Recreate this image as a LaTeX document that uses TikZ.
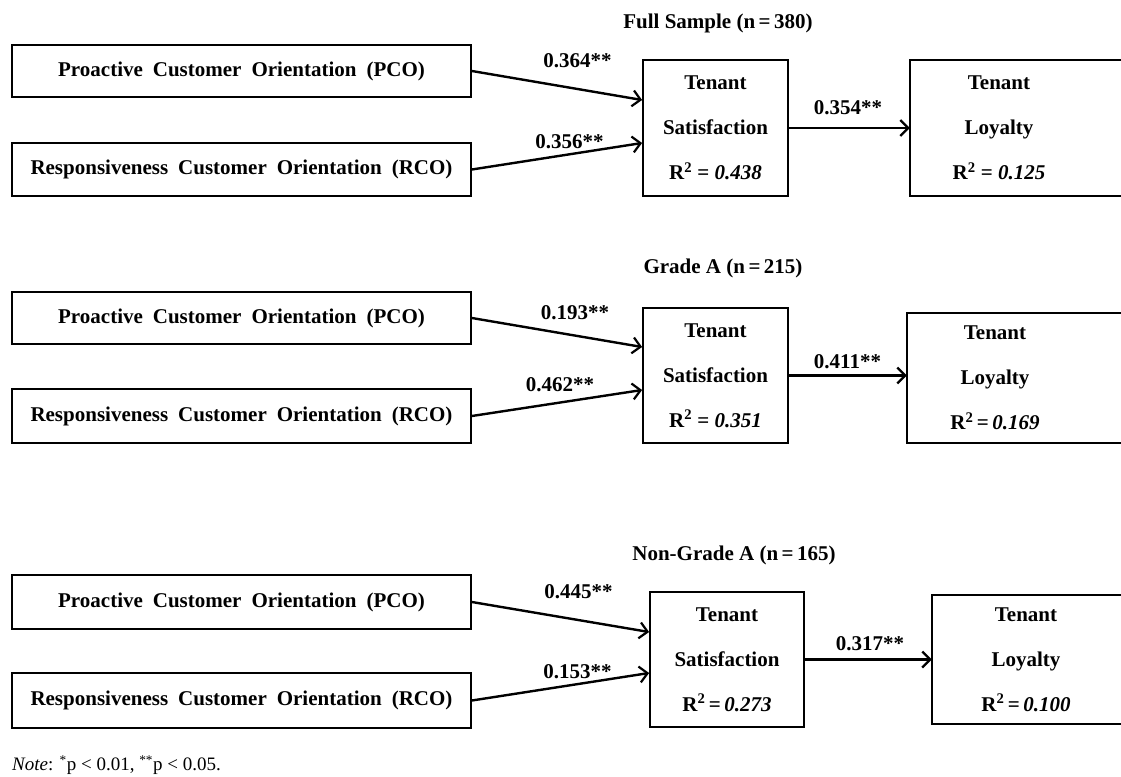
\documentclass[tikz,border=0pt]{standalone}
\usepackage{fontspec}
\setmainfont{Liberation Serif}
\usetikzlibrary{arrows.meta}
\newcommand\widewords{\spaceskip=10pt\relax}
\tikzset{
  boxline/.style={line width=1.8pt},
  inbox/.style={draw, boxline, minimum width=459pt, minimum height=52pt, inner sep=0pt,
    font=\fontsize{21}{25}\selectfont\bfseries\widewords},
  satbox/.style={draw, boxline, inner sep=0pt, align=center,
    font=\fontsize{21}{45}\selectfont\bfseries},
  loybox/.style={draw=none, inner sep=0pt, align=center,
    font=\fontsize{21}{45}\selectfont\bfseries},
  lbl/.style={inner sep=0pt, font=\fontsize{21}{25}\selectfont\bfseries},
  ttl/.style={inner sep=0pt, font=\fontsize{21}{25}\selectfont\bfseries},
  arr/.style={line width=2.4pt, -{Straight Barb[length=8pt,width=16pt,line width=2.2pt]}},
}
\begin{document}
\begin{tikzpicture}[x=1pt,y=-1pt]
\useasboundingbox (0,0) rectangle (1121,776);
\clip (0,0) rectangle (1121,776);

% ---------- Full sample ----------
\node[ttl] (t1) at (718,23) {Full Sample (n\,=\,380)};
\node[inbox] (pco1) at (241.5,71) {Proactive Customer Orientation (PCO)};
\node[inbox, minimum height=53pt] (rco1) at (241.5,169.5) {Responsiveness Customer Orientation (RCO)};
\node[satbox, minimum width=145pt, minimum height=136pt] (sat1) at (715.5,128)
  {Tenant\\Satisfaction\\R\textsuperscript{2} = \textit{0.438}};
\node[loybox, minimum width=178pt, minimum height=136pt] (loy1) at (999,128)
  {Tenant\\Loyalty\\R\textsuperscript{2} = \textit{0.125}};
\draw[boxline] (loy1.north west) rectangle ([xshift=120pt]loy1.south east);
\draw[arr] (pco1.east) -- ([yshift=28pt]sat1.west);
\draw[arr] (rco1.east) -- ([yshift=-15pt]sat1.west);
\draw[arr] (sat1.east) -- (sat1.east -| loy1.west);
\node[lbl] (a1) at (577.5,61) {0.364**};
\node[lbl] (b1) at (569.5,142) {0.356**};
\node[lbl] (c1) at (848,108) {0.354**};

% ---------- Grade A ----------
\node[ttl] (t2) at (723,268) {Grade A (n\,=\,215)};
\node[inbox] (pco2) at (241.5,318) {Proactive Customer Orientation (PCO)};
\node[inbox, minimum height=54pt] (rco2) at (241.5,416) {Responsiveness Customer Orientation (RCO)};
\node[satbox, minimum width=145pt, minimum height=135pt] (sat2) at (715.5,375.5)
  {Tenant\\Satisfaction\\R\textsuperscript{2} = \textit{0.351}};
\node[loybox, minimum width=176pt, minimum height=130pt] (loy2) at (995,378)
  {Tenant\\Loyalty\\R\textsuperscript{2}\,=\,\textit{0.169}};
\draw[boxline] (loy2.north west) rectangle ([xshift=120pt]loy2.south east);
\draw[arr] (pco2.east) -- ([yshift=28.5pt]sat2.west);
\draw[arr] (rco2.east) -- ([yshift=-14.5pt]sat2.west);
\draw[arr] (sat2.east) -- (sat2.east -| loy2.west);
\node[lbl] (a2) at (575,313) {0.193**};
\node[lbl] (b2) at (560,385) {0.462**};
\node[lbl] (c2) at (847.5,362) {0.411**};

% ---------- Non-Grade A ----------
\node[ttl] (t3) at (734,555) {Non-Grade A (n\,=\,165)};
\node[inbox, minimum height=54pt] (pco3) at (241.5,602) {Proactive Customer Orientation (PCO)};
\node[inbox, minimum height=55pt] (rco3) at (241.5,700.5) {Responsiveness Customer Orientation (RCO)};
\node[satbox, minimum width=154pt, minimum height=135pt] (sat3) at (727,659.5)
  {Tenant\\Satisfaction\\R\textsuperscript{2}\,=\,\textit{0.273}};
\node[loybox, minimum width=188pt, minimum height=129pt] (loy3) at (1026,659.5)
  {Tenant\\Loyalty\\R\textsuperscript{2}\,=\,\textit{0.100}};
\draw[boxline] (loy3.north west) rectangle ([xshift=120pt]loy3.south east);
\draw[arr] (pco3.east) -- ([yshift=27.5pt]sat3.west);
\draw[arr] (rco3.east) -- ([yshift=-13.5pt]sat3.west);
\draw[arr] (sat3.east) -- (sat3.east -| loy3.west);
\node[lbl] (a3) at (578.5,592) {0.445**};
\node[lbl] (b3) at (577.5,672) {0.153**};
\node[lbl] (c3) at (870,644) {0.317**};

% ---------- Note ----------
\node[anchor=west, inner sep=0pt, font=\fontsize{19}{23}\selectfont] (note) at (12,765)
  {\textit{Note}: \textsuperscript{*}p < 0.01, \textsuperscript{**}p < 0.05.};
\end{tikzpicture}
\end{document}
